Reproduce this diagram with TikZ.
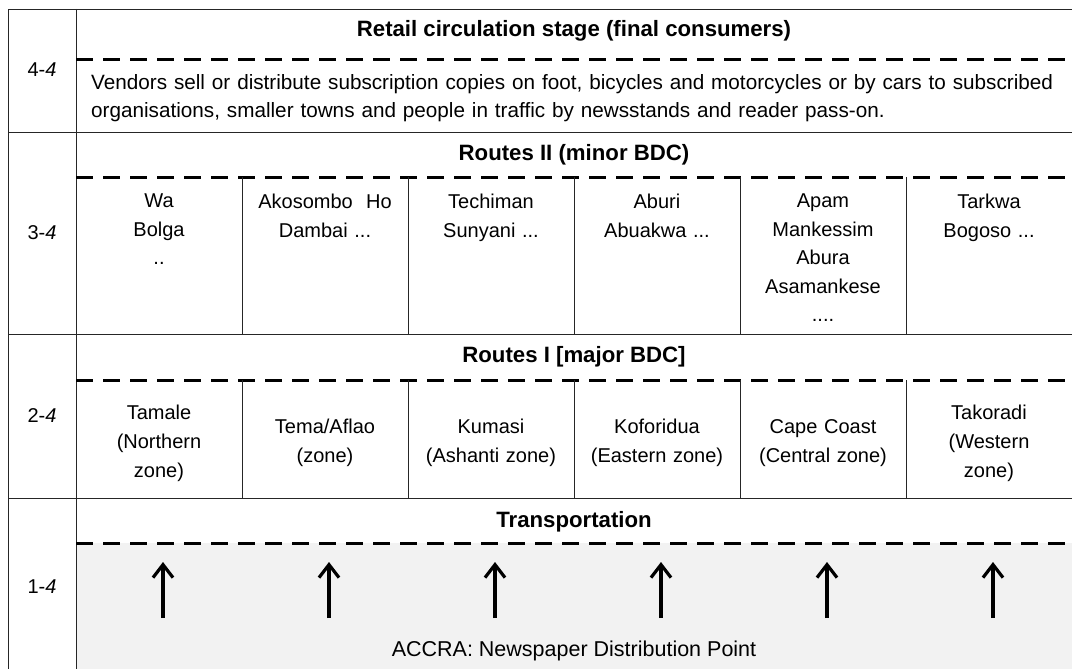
\documentclass[tikz,border=0pt]{standalone}
\usepackage{fontspec}
\setmainfont{Liberation Sans}
\usetikzlibrary{arrows.meta}
\definecolor{lightgrey}{HTML}{f2f2f2}

\begin{document}
\begin{tikzpicture}[x=1pt,y=-1pt,
    frame/.style={draw=black!85, line width=0.9pt},
    stagesep/.style={black, line width=3pt, dash pattern=on 17pt off 10pt},
    stagehead/.style={font=\fontsize{22.2}{26}\selectfont\bfseries},
    levellabel/.style={font=\fontsize{20}{24}\selectfont},
    town/.style={font=\fontsize{20}{28.5}\selectfont, align=center, text width=162pt, inner sep=0pt},
    zone/.style={font=\fontsize{20}{29}\selectfont, align=center, text width=162pt, inner sep=0pt},
    uparrow/.style={-{Straight Barb[length=13pt,width=20pt,line width=3.2pt]}, line width=3.2pt}]

        \useasboundingbox (0,0) rectangle (1072,669);

        % Grey base of transportation stage
        \fill[lightgrey] (76,543) rectangle (1072,669);

        % Frame
        \draw[frame] (1072,9) -- (8,9) -- (8,669);
        \draw[frame] (76,9) -- (76,669);
        \foreach \y in {132,334,498} {
            \draw[frame] (8,\y) -- (1072,\y);
        }

        % Level labels
        \node (lvlfour) [levellabel] at (42,70) {4-\textit{4}};
        \node (lvlthree) [levellabel] at (42,233) {3-\textit{4}};
        \node (lvltwo) [levellabel] at (42,416) {2-\textit{4}};
        \node (lvlone) [levellabel] at (42,587) {1-\textit{4}};

        % Stage headings
        \node (retailhead) [stagehead] at (574,31) {Retail circulation stage (final consumers)};
        \node (minorhead) [stagehead] at (574,155) {Routes II (minor BDC)};
        \node (majorhead) [stagehead] at (574,357) {Routes I [major BDC]};
        \node (transporthead) [stagehead] at (574,522) {Transportation};

        % Dashed separators
        \foreach \y in {60,177,380,543} {
            \draw[stagesep] (76,\y) -- (1072,\y);
        }

        % Retail text
        \node (retailtext) [anchor=west, align=left, text width=980pt, inner sep=0pt,
            font=\fontsize{20.7}{28}\selectfont] at (91,98)
            {Vendors sell or distribute subscription copies on foot, bicycles and motorcycles or by cars to subscribed\\
             organisations, smaller towns and people in traffic by newsstands and reader pass-on.};

        % Column dividers
        \foreach \c in {1,...,5} {
            \draw[frame] (76+166*\c,177) -- (76+166*\c,334);
            \draw[frame] (76+166*\c,380) -- (76+166*\c,498);
        }

        % Routes II (minor BDC)
        \node (wa) [town, anchor=north] at (159,194) {Wa\\Bolga\\..};
        \node (akosombo) [town, anchor=north] at (325,194) {Akosombo\ \ Ho\\Dambai ...};
        \node (techiman) [town, anchor=north] at (491,194) {Techiman\\Sunyani ...};
        \node (aburi) [town, anchor=north] at (657,194) {Aburi\\Abuakwa ...};
        \node (apam) [town, anchor=north] at (823,194) {Apam\\Mankessim\\Abura\\Asamankese\\....};
        \node (tarkwa) [town, anchor=north] at (989,194) {Tarkwa\\Bogoso ...};

        % Routes I [major BDC]
        \node (tamale) [zone] at (159,443) {Tamale\\(Northern\\zone)};
        \node (tema) [zone] at (325,443) {Tema/Aflao\\(zone)};
        \node (kumasi) [zone] at (491,443) {Kumasi\\(Ashanti zone)};
        \node (koforidua) [zone] at (657,443) {Koforidua\\(Eastern zone)};
        \node (capecoast) [zone] at (823,443) {Cape Coast\\(Central zone)};
        \node (takoradi) [zone] at (989,443) {Takoradi\\(Western\\zone)};

        % Distribution point
        \node (accra) [font=\fontsize{21.5}{25}\selectfont] at (574,651) {ACCRA: Newspaper Distribution Point};

        % Arrows
        \foreach \c in {0,...,5} {
            \coordinate (tail\c) at (163+166*\c,618);
            \coordinate (tip\c) at (163+166*\c,562);
            \draw[uparrow] (tail\c) -- (tip\c);
        }

\end{tikzpicture}
\end{document}
